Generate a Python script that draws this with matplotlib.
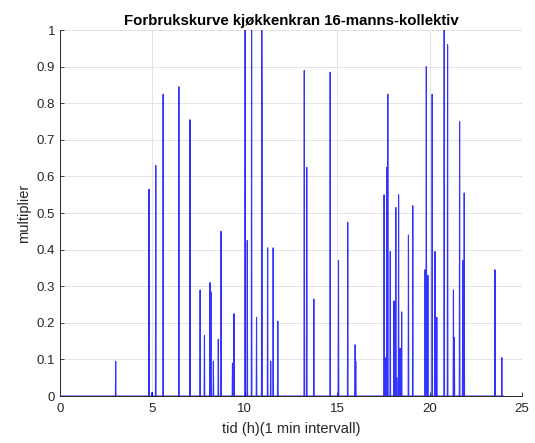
import matplotlib
matplotlib.use("Agg")
import matplotlib.pyplot as plt
import numpy as np

plt.rcParams['font.family'] = ['Liberation Sans', 'DejaVu Sans']

# tapping events: time of day (h) and multiplier
event_hours = [3.01, 4.82, 4.99, 5.18, 5.59, 6.44, 7.03, 7.58, 7.81, 8.12, 8.17,
               8.30, 8.57, 8.71, 9.34, 9.41, 10.01, 10.14, 10.37, 10.64, 10.91,
               10.94, 11.24, 11.40, 11.54, 11.78, 13.22, 13.35, 13.74, 14.61,
               15.06, 15.57, 15.96, 16.00, 17.53, 17.58, 17.69, 17.73, 17.86,
               18.07, 18.16, 18.21, 18.31, 18.40, 18.49, 18.85, 19.08, 19.75,
               19.81, 19.90, 20.13, 20.29, 20.38, 20.78, 20.96, 21.28, 21.34,
               21.61, 21.79, 21.86, 23.54, 23.90]
event_values = [0.095, 0.565, 0.01, 0.63, 0.825, 0.845, 0.755, 0.29, 0.165, 0.31,
                0.285, 0.095, 0.155, 0.45, 0.09, 0.225, 1.0, 0.425, 1.0, 0.215,
                1.0, 0.8, 0.405, 0.095, 0.405, 0.205, 0.89, 0.625, 0.265, 0.885,
                0.37, 0.475, 0.14, 0.095, 0.55, 0.105, 0.625, 0.825, 0.395,
                0.26, 0.515, 0.05, 0.55, 0.13, 0.23, 0.44, 0.52, 0.345,
                0.9, 0.33, 0.825, 0.395, 0.215, 1.0, 0.96, 0.29, 0.16,
                0.75, 0.37, 0.555, 0.345, 0.105]

minutes = np.arange(1440)
t = minutes / 60.0
usage = np.zeros(1440)
for h, v in zip(event_hours, event_values):
    usage[int(round(h * 60))] = v

fig = plt.figure(figsize=(5.35, 4.43), dpi=100)
ax = fig.add_axes([0.112, 0.106, 0.864, 0.826])
ax.plot(t, usage, color=(0, 0, 1), linewidth=0.8, alpha=0.8)

ax.set_xlim(0, 25)
ax.set_ylim(0, 1)
ax.set_xticks(np.arange(0, 26, 5))
ax.set_yticks(np.round(np.arange(0, 1.01, 0.1), 1))
ax.set_yticklabels(['0', '0.1', '0.2', '0.3', '0.4', '0.5', '0.6', '0.7', '0.8', '0.9', '1'])
ax.grid(True, color='#e3e3e3', linewidth=0.7)
ax.set_axisbelow(True)
ax.tick_params(direction='in', length=3, width=0.6, labelsize=9.5,
               colors='#262626', top=False, right=False)
ax.tick_params(axis='x', pad=5)
for side in ['top', 'right']:
    ax.spines[side].set_visible(False)
for side in ['left', 'bottom']:
    ax.spines[side].set_color('#262626')
    ax.spines[side].set_linewidth(0.7)

ax.set_title('Forbrukskurve kjøkkenkran 16-manns-kollektiv', fontsize=10.8,
             fontweight='bold', pad=4)
ax.set_xlabel('tid (h)(1 min intervall)', fontsize=10.5, color='#262626', labelpad=5)
ax.set_ylabel('multiplier', fontsize=10.5, color='#262626')

fig.savefig('out.png', dpi=100)
